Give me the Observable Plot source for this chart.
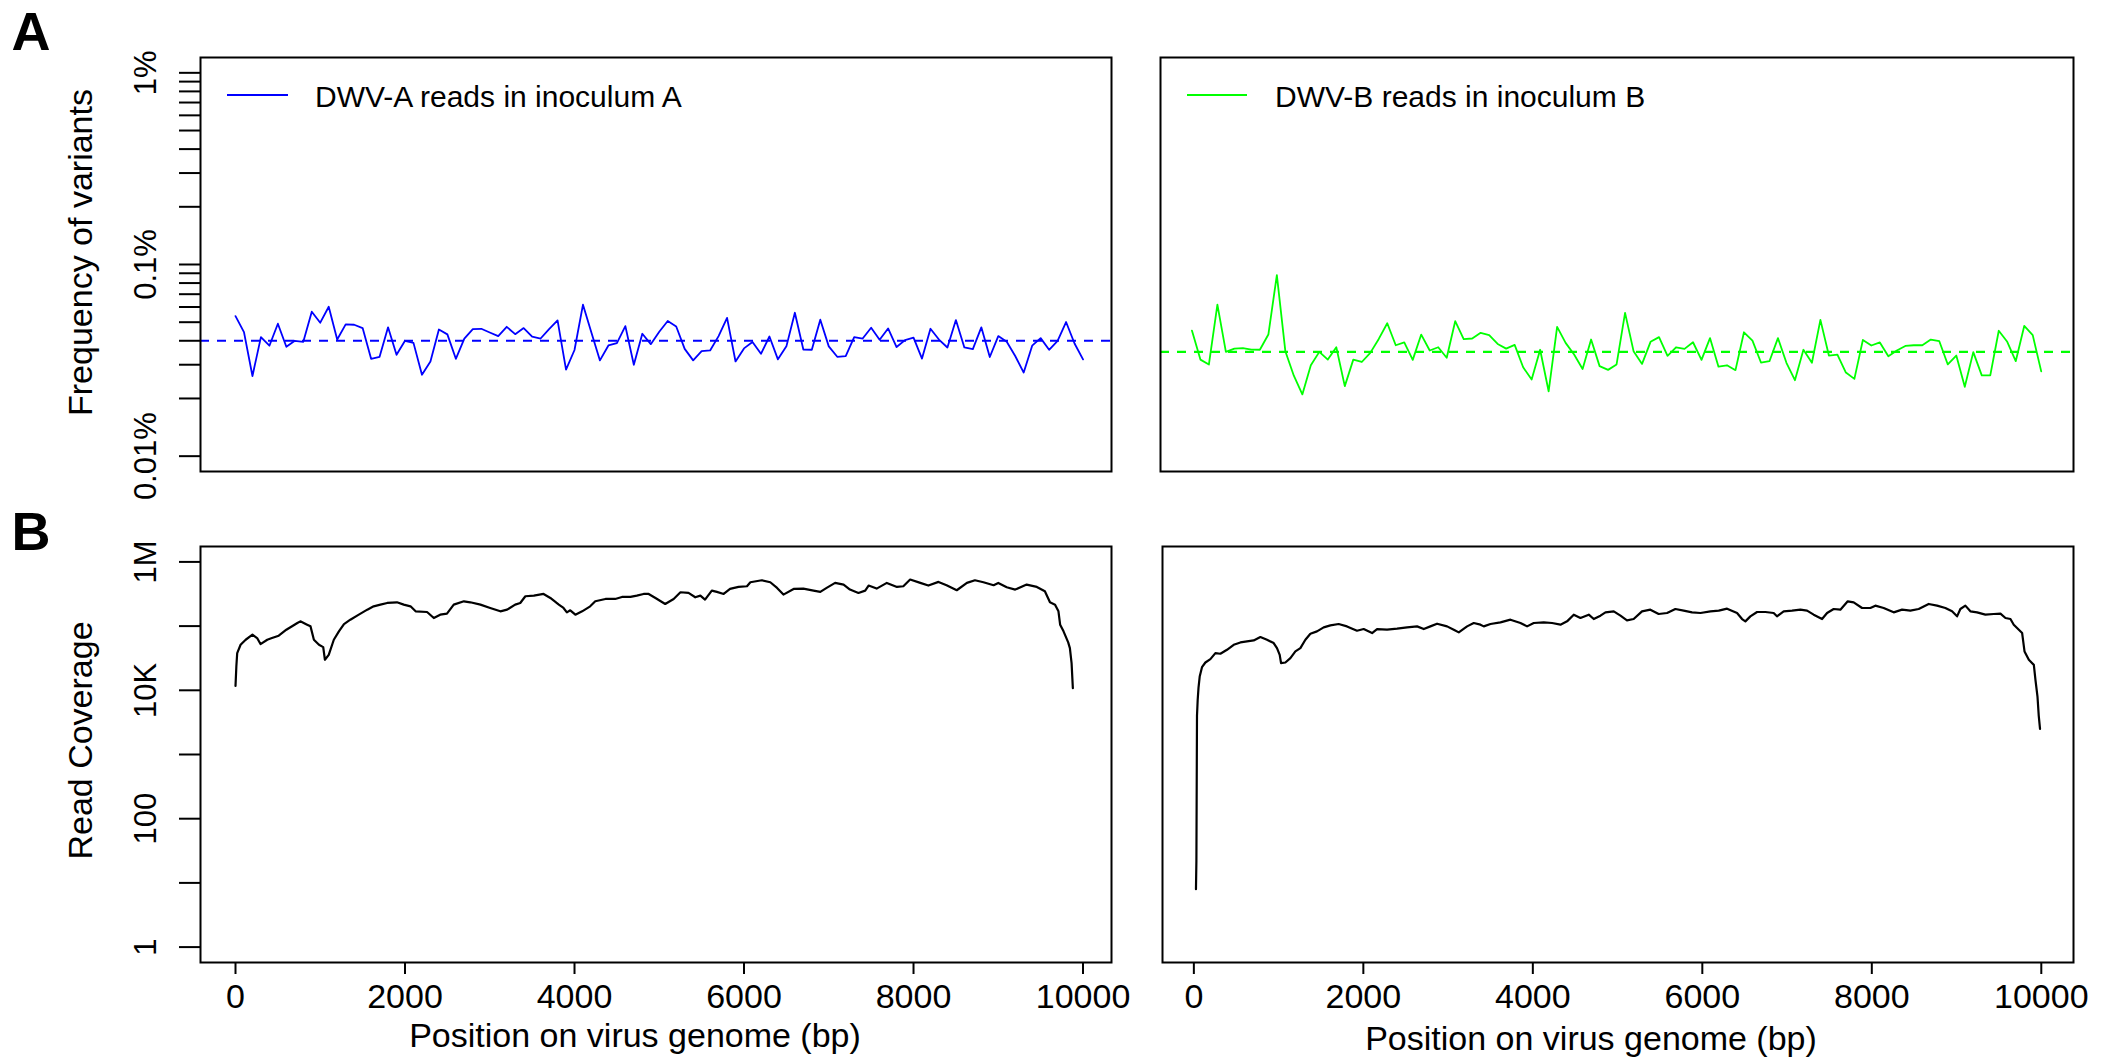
<!DOCTYPE html>
<html><head><meta charset="utf-8">
<script src="https://cdn.jsdelivr.net/npm/d3@7"></script>
<script src="https://cdn.jsdelivr.net/npm/@observablehq/plot@0.6"></script>
<style>
html,body{margin:0;padding:0;background:#fff;}
#root{position:relative;width:2109px;height:1059px;overflow:hidden;background:#fff;font-family:"Liberation Sans",Arial,Helvetica,sans-serif;}
.panel{position:absolute;}
.panel svg{overflow:visible;}
.swatch{position:absolute;height:2px;}
.ltext{position:absolute;font-size:30px;line-height:30px;white-space:nowrap;color:#000;}
</style></head><body><div id="root"></div>
<script>
// ---------- data ----------
const positions = [0,100,200,300,400,500,600,700,800,900,1000,1100,1200,1300,1400,1500,1600,1700,1800,1900,
  2000,2100,2200,2300,2400,2500,2600,2700,2800,2900,3000,3100,3200,3300,3400,3500,3600,3700,3800,3900,
  4000,4100,4200,4300,4400,4500,4600,4700,4800,4900,5000,5100,5200,5300,5400,5500,5600,5700,5800,5900,
  6000,6100,6200,6300,6400,6500,6600,6700,6800,6900,7000,7100,7200,7300,7400,7500,7600,7700,7800,7900,
  8000,8100,8200,8300,8400,8500,8600,8700,8800,8900,9000,9100,9200,9300,9400,9500,9600,9700,9800,9900,10000];

// frequency of variants (%) per window
const freqDWVA = [0.0538,0.0444,0.0262,0.0418,0.0377,0.0491,0.0372,0.0400,0.0395,0.0567,
  0.0497,0.0602,0.0406,0.0487,0.0485,0.0466,0.0322,0.0330,0.0470,0.0338,
  0.0400,0.0390,0.0266,0.0312,0.0458,0.0432,0.0322,0.0410,0.0460,0.0462,
  0.0442,0.0423,0.0473,0.0433,0.0466,0.0420,0.0411,0.0460,0.0511,0.0283,
  0.0358,0.0617,0.0440,0.0316,0.0378,0.0389,0.0477,0.0300,0.0435,0.0384,
  0.0446,0.0507,0.0475,0.0363,0.0316,0.0353,0.0356,0.0423,0.0527,0.0312,
  0.0365,0.0394,0.0342,0.0421,0.0320,0.0374,0.0560,0.0360,0.0359,0.0515,
  0.0374,0.0330,0.0333,0.0418,0.0411,0.0468,0.0405,0.0464,0.0371,0.0403,
  0.0415,0.0323,0.0462,0.0406,0.0369,0.0513,0.0369,0.0362,0.0470,0.0329,
  0.0423,0.0395,0.0333,0.0273,0.0377,0.0413,0.0359,0.0400,0.0501,0.0387,0.0320];

const freqDWVB = [0.0452,0.0319,0.0301,0.0618,0.0350,0.0364,0.0366,0.0360,0.0359,0.0431,
  0.0880,0.0353,0.0263,0.0210,0.0298,0.0350,0.0319,0.0370,0.0232,0.0319,
  0.0310,0.0346,0.0409,0.0494,0.0379,0.0392,0.0318,0.0431,0.0356,0.0370,
  0.0326,0.0506,0.0408,0.0411,0.0440,0.0428,0.0385,0.0364,0.0381,0.0291,
  0.0251,0.0359,0.0218,0.0473,0.0390,0.0339,0.0285,0.0406,0.0295,0.0282,
  0.0301,0.0559,0.0353,0.0303,0.0395,0.0418,0.0334,0.0370,0.0363,0.0393,
  0.0318,0.0413,0.0293,0.0298,0.0281,0.0443,0.0401,0.0308,0.0313,0.0413,
  0.0307,0.0249,0.0359,0.0307,0.0514,0.0335,0.0339,0.0273,0.0253,0.0404,
  0.0378,0.0392,0.0332,0.0356,0.0376,0.0379,0.0379,0.0406,0.0398,0.0301,
  0.0335,0.0230,0.0349,0.0264,0.0264,0.0451,0.0395,0.0313,0.0478,0.0428,0.0277];

// mean variant frequency (%) – dashed reference lines
const meanFreqA = 0.040;
const meanFreqB = 0.035;

// read coverage: [position (bp), reads]
const coverageA = [[0,11700],[10,23500],[20,38000],[60,51200],[120,61300],[200,73400],[255,65100],[295,52500],
  [375,61300],[430,65100],[510,70800],[600,87900],[730,111700],[765,118600],[845,105200],[885,99100],[925,61300],
  [985,51200],[1035,47100],[1055,29900],[1100,35700],[1160,61300],[1220,82800],[1280,107700],[1355,125900],
  [1455,150700],[1555,180400],[1630,203400],[1710,216000],[1790,229300],[1905,234900],[1985,216000],[2065,203400],
  [2125,169900],[2260,165900],[2340,133700],[2415,150700],[2495,156200],[2575,216000],[2695,243500],[2770,234900],
  [2890,216000],[3005,191600],[3125,169900],[3205,180400],[3300,216000],[3360,229300],[3420,291500],[3520,298500],
  [3635,316900],[3715,274500],[3815,216000],[3870,191600],[3910,163900],[3950,176200],[4010,150700],[4090,169900],
  [4185,203400],[4245,243500],[4365,264800],[4480,264800],[4560,284600],[4660,284600],[4735,298500],[4815,316900],
  [4875,316900],[4955,274500],[5070,221300],[5170,264800],[5250,336500],[5345,328700],[5425,281200],[5485,298500],
  [5540,258500],[5620,357400],[5680,340700],[5760,316900],[5835,379500],[5935,407800],[6035,417700],[6075,482400],
  [6210,518300],[6310,482400],[6390,393300],[6465,309500],[6585,379500],[6700,384000],[6820,357400],[6900,340700],
  [6975,393300],[7075,470900],[7175,443700],[7250,370600],[7350,328700],[7430,357400],[7470,427900],[7565,384000],
  [7685,470900],[7805,407800],[7880,417700],[7960,530900],[8080,470900],[8175,427900],[8295,488200],[8390,433000],
  [8510,361700],[8630,470900],[8725,518300],[8825,482400],[8945,433000],[9000,470900],[9100,402900],[9200,370600],
  [9335,443700],[9455,407800],[9550,348800],[9610,234900],[9670,216000],[9710,169900],[9730,105200],[9770,82800],
  [9825,55700],[9845,45400],[9865,26500],[9880,10800]];

const coverageB = [[25,8],[30,22],[37,4000],[45,7000],[55,11000],[69,16400],[96,22900],[136,27100],[195,30600],
  [254,37900],[313,37100],[391,42800],[470,51200],[549,55700],[627,57700],[706,59800],[785,67500],[863,61300],
  [942,54400],[981,45400],[1013,35700],[1029,26500],[1080,27100],[1139,31700],[1198,40300],[1257,45400],
  [1316,61300],[1375,76100],[1453,82800],[1532,95500],[1611,102700],[1709,107700],[1807,99000],[1925,84800],
  [2004,90000],[2103,78000],[2162,90000],[2280,87900],[2398,91100],[2516,95500],[2634,99000],[2713,90000],
  [2791,99000],[2870,109000],[2988,99000],[3067,87900],[3126,79800],[3224,99000],[3303,111700],[3382,105200],
  [3421,99000],[3500,107700],[3618,114400],[3736,125900],[3854,111700],[3932,99000],[4011,111700],[4129,114400],
  [4227,111700],[4326,105200],[4404,118600],[4483,150700],[4562,133700],[4660,150700],[4719,128900],[4798,145400],
  [4857,163900],[4955,169900],[5034,145400],[5111,122900],[5190,128900],[5288,169900],[5387,180400],[5485,154400],
  [5584,160000],[5682,184800],[5780,174000],[5879,163900],[5978,160000],[6096,169900],[6194,174000],[6292,187000],
  [6410,160000],[6469,128900],[6508,118600],[6567,141900],[6646,165900],[6744,165900],[6842,160000],[6881,141900],
  [6960,169900],[7059,174000],[7157,180400],[7236,174000],[7314,150700],[7413,128900],[7472,160000],[7550,184800],
  [7629,180400],[7716,243500],[7786,234900],[7885,191600],[7983,191600],[8042,208400],[8140,191600],[8258,163900],
  [8357,180400],[8455,174000],[8553,184800],[8671,221300],[8770,208400],[8868,191600],[8947,169900],[9006,141900],
  [9045,184800],[9104,208400],[9163,169900],[9242,163900],[9340,150700],[9439,154400],[9518,156200],[9577,133700],
  [9636,128900],[9675,105200],[9774,78000],[9802,40300],[9853,29900],[9912,24900],[9931,14500],[9955,8000],
  [9970,4000],[9985,2500]];

// axis ticks and labels
const freqTicks = [0.01,0.02,0.03,0.04,0.05,0.06,0.07,0.08,0.09,0.1,0.2,0.3,0.4,0.5,0.6,0.7,0.8,0.9,1];
const freqTickLabels = new Map([[0.01,"0.01%"],[0.1,"0.1%"],[1,"1%"]]);
const covTicks = [1,10,100,1000,10000,100000,1000000];
const covTickLabels = new Map([[1,"1"],[100,"100"],[10000,"10K"],[1000000,"1M"]]);
const posTicks = [0,2000,4000,6000,8000,10000];

const legendA = "DWV-A reads in inoculum A";
const legendB = "DWV-B reads in inoculum B";
const yLabelA = "Frequency of variants";
const yLabelB = "Read Coverage";
const xLabel = "Position on virus genome (bp)";

// ---------- drawing ----------
const BLUE = "#0000ff", GREEN = "#00ff00";
const FONT = '"Liberation Sans", Arial, Helvetica, sans-serif';
const root = document.getElementById("root");

const seriesA = positions.map((p, i) => ({pos: p, freq: freqDWVA[i]}));
const seriesB = positions.map((p, i) => ({pos: p, freq: freqDWVB[i]}));
const covA = coverageA.map(([pos, reads]) => ({pos, reads}));
const covB = coverageB.map(([pos, reads]) => ({pos, reads}));

const xDomLeft = [-413, 10336];
const xDomRight = [-370, 10380];
const yDomFreq = [Math.pow(10, -2.08), Math.pow(10, 0.08)];
const yDomCov = [Math.pow(10, -0.24), Math.pow(10, 6.24)];

function place(el, left, top, w) {
  const d = document.createElement("div");
  d.className = "panel";
  d.style.left = left + "px"; d.style.top = top + "px"; d.style.width = w + "px";
  d.appendChild(el);
  root.appendChild(d);
}

const style = {fontFamily: FONT, fontSize: "31px", background: "transparent", color: "black"};

// Panel A left
place(Plot.plot({
  width: 1130, height: 500, marginLeft: 200, marginRight: 19, marginTop: 57, marginBottom: 29,
  style,
  x: {domain: xDomLeft, axis: null},
  y: {type: "log", domain: yDomFreq},
  marks: [
    Plot.ruleY([meanFreqA], {stroke: BLUE, strokeWidth: 2.2, strokeDasharray: "9,8"}),
    Plot.line(seriesA, {x: "pos", y: "freq", stroke: BLUE, strokeWidth: 1.8}),
    Plot.frame({stroke: "black", strokeWidth: 2}),
    Plot.axisY({ticks: freqTicks, tickFormat: d => freqTickLabels.get(d) ?? "", tickSize: 21, tickPadding: 24,
      tickRotate: -90, fontSize: 31, label: null, strokeWidth: 2}),
    Plot.text([yLabelA], {frameAnchor: "left", text: d => d, rotate: -90, dx: -119, dy: -12, fontSize: 34,
      textAnchor: "middle", lineAnchor: "middle"}),
    Plot.text(["A"], {frameAnchor: "top-left", text: d => d, dx: -189, dy: -8, fontSize: 54, fontWeight: "bold",
      textAnchor: "start", lineAnchor: "bottom"})
  ]
}), 0, 0, 1130);

// Panel A right
place(Plot.plot({
  width: 979, height: 500, marginLeft: 30, marginRight: 36, marginTop: 57, marginBottom: 29,
  style,
  x: {domain: xDomRight, axis: null},
  y: {type: "log", domain: yDomFreq, axis: null},
  marks: [
    Plot.ruleY([meanFreqB], {stroke: GREEN, strokeWidth: 2.2, strokeDasharray: "9,8"}),
    Plot.line(seriesB, {x: "pos", y: "freq", stroke: GREEN, strokeWidth: 1.8}),
    Plot.frame({stroke: "black", strokeWidth: 2})
  ]
}), 1130, 0, 979);

// Panel B left
place(Plot.plot({
  width: 1130, height: 559, marginLeft: 200, marginRight: 19, marginTop: 46, marginBottom: 97,
  style,
  x: {domain: xDomLeft},
  y: {type: "log", domain: yDomCov},
  marks: [
    Plot.line(covA, {x: "pos", y: "reads", stroke: "black", strokeWidth: 2.2}),
    Plot.frame({stroke: "black", strokeWidth: 2}),
    Plot.axisY({ticks: covTicks, tickFormat: d => covTickLabels.get(d) ?? "", tickSize: 21, tickPadding: 24,
      tickRotate: -90, fontSize: 31, label: null, strokeWidth: 2}),
    Plot.axisX({ticks: posTicks, tickFormat: d => String(d), tickSize: 12, tickPadding: 9, fontSize: 34,
      label: null, strokeWidth: 2}),
    Plot.text([yLabelB], {frameAnchor: "left", text: d => d, rotate: -90, dx: -119, dy: -14, fontSize: 34,
      textAnchor: "middle", lineAnchor: "middle"}),
    Plot.text([xLabel], {frameAnchor: "bottom", text: d => d, dx: -21, dy: 84, fontSize: 34,
      textAnchor: "middle", lineAnchor: "bottom"}),
    Plot.text(["B"], {frameAnchor: "top-left", text: d => d, dx: -189, dy: 3, fontSize: 54, fontWeight: "bold",
      textAnchor: "start", lineAnchor: "bottom"})
  ]
}), 0, 500, 1130);

// Panel B right
place(Plot.plot({
  width: 979, height: 559, marginLeft: 32, marginRight: 36, marginTop: 46, marginBottom: 97,
  style,
  x: {domain: xDomRight},
  y: {type: "log", domain: yDomCov, axis: null},
  marks: [
    Plot.line(covB, {x: "pos", y: "reads", stroke: "black", strokeWidth: 2.2}),
    Plot.frame({stroke: "black", strokeWidth: 2}),
    Plot.axisX({ticks: posTicks, tickFormat: d => String(d), tickSize: 12, tickPadding: 9, fontSize: 34,
      label: null, strokeWidth: 2}),
    Plot.text([xLabel], {frameAnchor: "bottom", text: d => d, dx: -27, dy: 87, fontSize: 34,
      textAnchor: "middle", lineAnchor: "bottom"})
  ]
}), 1130, 500, 979);

// legends
function legend(color, label, x0, w, tx) {
  const s = document.createElement("div");
  s.className = "swatch";
  s.style.left = x0 + "px"; s.style.top = "94px"; s.style.width = w + "px"; s.style.background = color;
  root.appendChild(s);
  const t = document.createElement("div");
  t.className = "ltext";
  t.style.left = tx + "px"; t.style.top = "82px";
  t.textContent = label;
  root.appendChild(t);
}
legend(BLUE, legendA, 227, 61, 315);
legend(GREEN, legendB, 1187, 60, 1275);
</script></body></html>
